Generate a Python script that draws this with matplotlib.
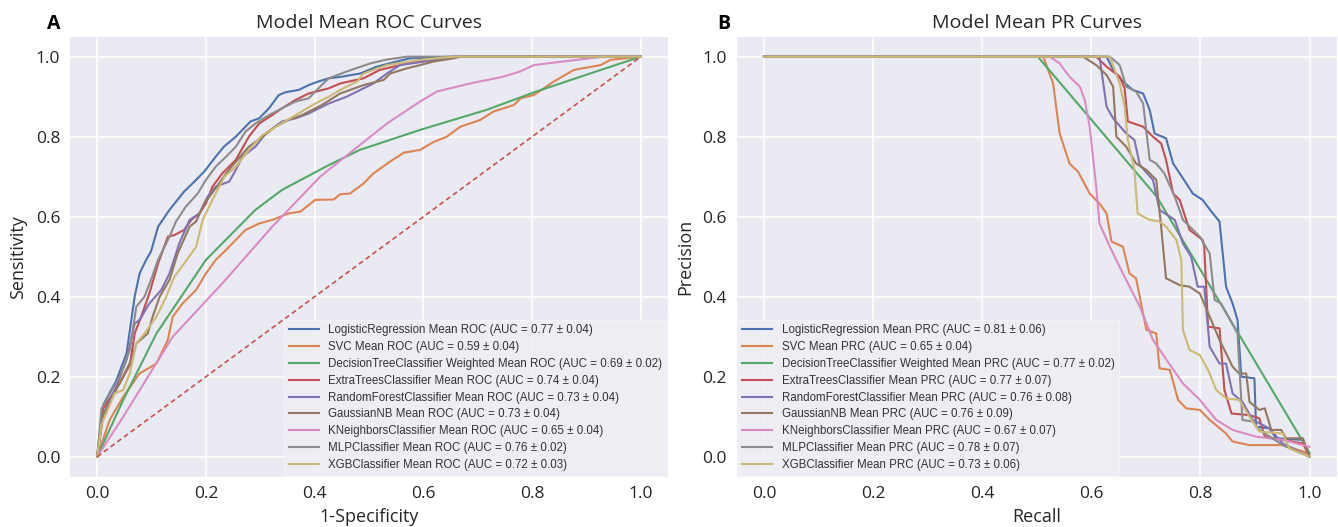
import matplotlib
matplotlib.use("Agg")
import matplotlib.pyplot as plt

# ---- data ----
models = ["LogisticRegression", "SVC", "DecisionTreeClassifier", "ExtraTreesClassifier",
          "RandomForestClassifier", "GaussianNB", "KNeighborsClassifier", "MLPClassifier",
          "XGBClassifier"]
colors = ["#4C72B0", "#DD8452", "#55A868", "#C44E52", "#8172B3",
          "#937860", "#DA8BC3", "#8C8C8C", "#CCB974"]
roc_auc = ["0.77 ± 0.04", "0.59 ± 0.04", "0.69 ± 0.02", "0.74 ± 0.04", "0.73 ± 0.04",
           "0.73 ± 0.04", "0.65 ± 0.04", "0.76 ± 0.02", "0.72 ± 0.03"]
prc_auc = ["0.81 ± 0.06", "0.65 ± 0.04", "0.77 ± 0.02", "0.77 ± 0.07", "0.76 ± 0.08",
           "0.76 ± 0.09", "0.67 ± 0.07", "0.78 ± 0.07", "0.73 ± 0.06"]

lr_fpr = [0, 0.011, 0.035, 0.054, 0.069, 0.078, 0.09, 0.099, 0.112, 0.133, 0.16, 0.179, 0.197, 0.218,
          0.233, 0.255, 0.282, 0.298, 0.316, 0.334, 0.346, 0.371, 0.389, 0.407, 0.426, 0.45, 0.484,
          0.514, 0.557, 0.576, 0.65, 1.0]
lr_tpr = [0, 0.129, 0.19, 0.258, 0.4, 0.458, 0.492, 0.513, 0.575, 0.617, 0.663, 0.688, 0.713, 0.75,
          0.775, 0.8, 0.838, 0.846, 0.871, 0.904, 0.911, 0.917, 0.929, 0.938, 0.946, 0.95, 0.958,
          0.975, 0.99, 0.996, 1.0, 1.0]
svc_fpr = [0, 0.023, 0.048, 0.078, 0.109, 0.13, 0.139, 0.157, 0.182, 0.2, 0.218, 0.237, 0.255, 0.273,
           0.298, 0.322, 0.352, 0.374, 0.401, 0.435, 0.447, 0.465, 0.49, 0.508, 0.539, 0.564, 0.594,
           0.619, 0.643, 0.668, 0.705, 0.729, 0.766, 0.779, 0.803, 0.84, 0.877, 0.926, 0.944, 1.0]
svc_tpr = [0, 0.092, 0.15, 0.208, 0.233, 0.292, 0.35, 0.383, 0.417, 0.458, 0.492, 0.517, 0.542, 0.567,
           0.583, 0.592, 0.608, 0.613, 0.642, 0.643, 0.656, 0.658, 0.683, 0.708, 0.738, 0.76, 0.767,
           0.787, 0.8, 0.825, 0.842, 0.863, 0.879, 0.896, 0.904, 0.938, 0.967, 0.979, 0.992, 1.0]
dt_fpr = [0, 0.048, 0.109, 0.2, 0.291, 0.34, 0.426, 0.483, 0.594, 0.716, 0.808, 0.9, 1.0]
dt_tpr = [0, 0.142, 0.308, 0.492, 0.617, 0.667, 0.729, 0.767, 0.817, 0.867, 0.913, 0.955, 1.0]
et_fpr = [0, 0.011, 0.041, 0.06, 0.069, 0.081, 0.096, 0.112, 0.13, 0.142, 0.16, 0.173, 0.188, 0.2,
          0.212, 0.23, 0.255, 0.279, 0.298, 0.322, 0.34, 0.365, 0.389, 0.426, 0.447, 0.49, 0.52,
          0.57, 0.613, 0.656, 1.0]
et_tpr = [0, 0.12, 0.183, 0.229, 0.308, 0.35, 0.408, 0.483, 0.55, 0.554, 0.567, 0.592, 0.608, 0.633,
          0.675, 0.708, 0.742, 0.8, 0.833, 0.854, 0.871, 0.892, 0.908, 0.921, 0.933, 0.946, 0.967,
          0.983, 0.992, 1.0, 1.0]
rf_fpr = [0, 0.011, 0.035, 0.054, 0.069, 0.078, 0.096, 0.118, 0.133, 0.151, 0.17, 0.188, 0.203, 0.218,
          0.243, 0.255, 0.267, 0.291, 0.31, 0.34, 0.365, 0.389, 0.426, 0.459, 0.508, 0.533, 0.557,
          0.613, 0.656, 1.0]
rf_tpr = [0, 0.104, 0.175, 0.242, 0.333, 0.342, 0.383, 0.417, 0.458, 0.533, 0.592, 0.608, 0.65, 0.675,
          0.688, 0.717, 0.75, 0.775, 0.808, 0.838, 0.846, 0.858, 0.883, 0.9, 0.933, 0.958, 0.979,
          0.99, 1.0, 1.0]
gnb_fpr = [0, 0.011, 0.041, 0.063, 0.072, 0.093, 0.102, 0.115, 0.133, 0.148, 0.17, 0.182, 0.197, 0.218,
           0.237, 0.258, 0.279, 0.304, 0.328, 0.352, 0.377, 0.413, 0.447, 0.49, 0.527, 0.539, 0.57,
           0.594, 0.619, 0.656, 0.668, 1.0]
gnb_tpr = [0, 0.104, 0.183, 0.242, 0.283, 0.308, 0.35, 0.4, 0.442, 0.508, 0.575, 0.588, 0.633, 0.671,
           0.708, 0.742, 0.775, 0.8, 0.825, 0.842, 0.854, 0.879, 0.908, 0.929, 0.942, 0.958, 0.971,
           0.979, 0.988, 0.996, 1.0, 1.0]
knn_fpr = [0, 0.048, 0.139, 0.23, 0.322, 0.41, 0.472, 0.533, 0.594, 0.625, 0.686, 0.747, 0.778, 0.803,
           0.87, 0.93, 1.0]
knn_tpr = [0, 0.1, 0.3, 0.433, 0.575, 0.7, 0.767, 0.833, 0.888, 0.913, 0.933, 0.95, 0.963, 0.979,
           0.99, 1.0, 1.0]
mlp_fpr = [0, 0.008, 0.041, 0.06, 0.072, 0.087, 0.099, 0.112, 0.133, 0.145, 0.163, 0.185, 0.2, 0.218,
           0.237, 0.255, 0.273, 0.291, 0.316, 0.34, 0.365, 0.389, 0.413, 0.426, 0.459, 0.502, 0.533,
           0.57, 1.0]
mlp_tpr = [0, 0.12, 0.2, 0.267, 0.375, 0.4, 0.442, 0.492, 0.55, 0.588, 0.625, 0.658, 0.692, 0.725,
           0.75, 0.775, 0.813, 0.833, 0.854, 0.871, 0.888, 0.896, 0.929, 0.946, 0.963, 0.983, 0.993,
           1.0, 1.0]
xgb_fpr = [0, 0.008, 0.032, 0.048, 0.06, 0.072, 0.087, 0.109, 0.127, 0.142, 0.16, 0.182, 0.194, 0.212,
           0.234, 0.255, 0.279, 0.304, 0.334, 0.365, 0.401, 0.426, 0.447, 0.478, 0.49, 0.533, 0.594,
           0.656, 1.0]
xgb_tpr = [0, 0.08, 0.158, 0.167, 0.208, 0.283, 0.308, 0.35, 0.4, 0.45, 0.483, 0.525, 0.592, 0.642,
           0.7, 0.725, 0.767, 0.804, 0.829, 0.854, 0.883, 0.9, 0.917, 0.938, 0.958, 0.979, 0.992,
           1.0, 1.0]

lr_rec = [0, 0.628, 0.64, 0.658, 0.676, 0.695, 0.707, 0.716, 0.737, 0.75, 0.768, 0.786, 0.804, 0.82,
          0.835, 0.847, 0.859, 0.868, 0.875, 0.899, 0.902, 0.926, 0.939, 0.988, 1.0]
lr_prec = [1, 1, 0.967, 0.938, 0.917, 0.908, 0.867, 0.808, 0.796, 0.733, 0.696, 0.658, 0.642, 0.613,
           0.588, 0.425, 0.383, 0.342, 0.2, 0.196, 0.075, 0.071, 0.046, 0.042, 0.0]
svc_rec = [0, 0.512, 0.53, 0.542, 0.56, 0.576, 0.597, 0.615, 0.628, 0.637, 0.658, 0.67, 0.682, 0.701,
           0.719, 0.725, 0.744, 0.759, 0.774, 0.799, 0.817, 0.847, 0.859, 0.89, 0.951, 1.0]
svc_prec = [1, 1, 0.933, 0.808, 0.733, 0.712, 0.658, 0.633, 0.608, 0.538, 0.525, 0.458, 0.446, 0.317,
            0.308, 0.221, 0.217, 0.142, 0.121, 0.117, 0.092, 0.058, 0.038, 0.029, 0.029, 0.008]
dt_rec = [0, 0.502, 0.72, 1.0]
dt_prec = [1, 1, 0.65, 0.01]
et_rec = [0, 0.609, 0.628, 0.652, 0.661, 0.667, 0.695, 0.713, 0.728, 0.737, 0.75, 0.762, 0.78, 0.804,
          0.807, 0.814, 0.835, 0.844, 0.857, 0.89, 0.908, 0.918, 0.988, 1.0]
et_prec = [1, 1, 0.975, 0.95, 0.921, 0.838, 0.825, 0.8, 0.783, 0.742, 0.658, 0.642, 0.567, 0.542,
           0.525, 0.325, 0.321, 0.167, 0.108, 0.104, 0.096, 0.05, 0.033, 0.0]
rf_rec = [0, 0.615, 0.628, 0.64, 0.664, 0.679, 0.689, 0.713, 0.725, 0.753, 0.768, 0.783, 0.795, 0.807,
          0.817, 0.835, 0.847, 0.859, 0.877, 0.896, 0.926, 0.951, 1.0]
rf_prec = [1, 1, 0.875, 0.846, 0.808, 0.792, 0.729, 0.692, 0.617, 0.592, 0.533, 0.5, 0.425, 0.425,
           0.275, 0.233, 0.233, 0.158, 0.137, 0.092, 0.071, 0.033, 0.0]
gnb_rec = [0, 0.585, 0.609, 0.628, 0.64, 0.646, 0.664, 0.682, 0.701, 0.719, 0.728, 0.737, 0.762, 0.78,
           0.799, 0.817, 0.835, 0.859, 0.871, 0.884, 0.89, 0.908, 0.918, 0.93, 0.948, 0.957, 0.988, 1.0]
gnb_prec = [1, 1, 0.979, 0.954, 0.925, 0.8, 0.775, 0.733, 0.717, 0.692, 0.575, 0.446, 0.429, 0.425,
            0.408, 0.35, 0.292, 0.225, 0.208, 0.208, 0.137, 0.117, 0.121, 0.067, 0.067, 0.046, 0.046, 0.0]
knn_rec = [0, 0.524, 0.542, 0.56, 0.579, 0.588, 0.597, 0.609, 0.615, 0.634, 0.658, 0.689, 0.713, 0.738,
           0.768, 0.799, 0.829, 0.859, 0.902, 0.951, 1.0]
knn_prec = [1, 1, 0.983, 0.95, 0.925, 0.892, 0.825, 0.675, 0.583, 0.525, 0.458, 0.375, 0.292, 0.242,
            0.183, 0.142, 0.092, 0.067, 0.05, 0.042, 0.025]
mlp_rec = [0, 0.634, 0.652, 0.664, 0.682, 0.695, 0.707, 0.719, 0.734, 0.753, 0.768, 0.799, 0.817, 0.826,
           0.838, 0.868, 0.877, 0.896, 0.908, 0.951, 1.0]
mlp_prec = [1, 1, 0.979, 0.925, 0.913, 0.883, 0.742, 0.733, 0.708, 0.65, 0.592, 0.55, 0.508, 0.392,
            0.383, 0.308, 0.092, 0.088, 0.067, 0.029, 0.0]
xgb_rec = [0, 0.634, 0.652, 0.661, 0.667, 0.679, 0.685, 0.707, 0.725, 0.737, 0.756, 0.765, 0.768, 0.78,
           0.799, 0.814, 0.829, 0.847, 0.871, 0.89, 0.908, 0.951, 0.963, 1.0]
xgb_prec = [1, 1, 0.933, 0.875, 0.792, 0.717, 0.608, 0.592, 0.588, 0.575, 0.542, 0.492, 0.317, 0.267,
            0.254, 0.217, 0.167, 0.146, 0.142, 0.1, 0.063, 0.058, 0.021, 0.0]

roc_x = [lr_fpr, svc_fpr, dt_fpr, et_fpr, rf_fpr, gnb_fpr, knn_fpr, mlp_fpr, xgb_fpr]
roc_y = [lr_tpr, svc_tpr, dt_tpr, et_tpr, rf_tpr, gnb_tpr, knn_tpr, mlp_tpr, xgb_tpr]
pr_x = [lr_rec, svc_rec, dt_rec, et_rec, rf_rec, gnb_rec, knn_rec, mlp_rec, xgb_rec]
pr_y = [lr_prec, svc_prec, dt_prec, et_prec, rf_prec, gnb_prec, knn_prec, mlp_prec, xgb_prec]
ticks = [0.0, 0.2, 0.4, 0.6, 0.8, 1.0]

plt.rcParams.update({
    "axes.facecolor": "#EAEAF2",
    "axes.edgecolor": "white",
    "axes.grid": True,
    "grid.color": "white",
    "grid.linewidth": 1.1,
    "axes.axisbelow": True,
    "font.family": ["Open Sans", "DejaVu Sans"],
})

fig = plt.figure(figsize=(13.38, 5.27), dpi=100)
ax1 = fig.add_axes([0.0523, 0.0954, 0.447, 0.835])
ax2 = fig.add_axes([0.5506, 0.0954, 0.4485, 0.835])


def style_axes(ax, title, xlabel, ylabel):
    for s in ax.spines.values():
        s.set_visible(False)
    ax.set_xlim(-0.05, 1.05)
    ax.set_ylim(-0.05, 1.05)
    ax.set_xticks(ticks)
    ax.set_yticks(ticks)
    ax.set_xticklabels(["%.1f" % t for t in ticks])
    ax.set_yticklabels(["%.1f" % t for t in ticks])
    ax.tick_params(length=0, pad=7, labelsize=12.5, labelcolor="#262626")
    ax.set_title(title, fontsize=14, pad=6, color="#262626")
    ax.set_xlabel(xlabel, fontsize=13, labelpad=4, color="#262626")
    ax.set_ylabel(ylabel, fontsize=13, labelpad=6, color="#262626")


for i, m in enumerate(models):
    kind = "Weighted Mean" if m == "DecisionTreeClassifier" else "Mean"
    ax1.plot(roc_x[i], roc_y[i], color=colors[i], lw=1.5,
             label="%s %s ROC (AUC = %s)" % (m, kind, roc_auc[i]))
    ax2.plot(pr_x[i], pr_y[i], color=colors[i], lw=1.5,
             label="%s %s PRC (AUC = %s)" % (m, kind, prc_auc[i]))
ax1.plot([0, 1], [0, 1], linestyle=(0, (3, 2)), lw=1.2, color="#C9504F")

style_axes(ax1, "Model Mean ROC Curves", "1-Specificity", "Sensitivity")
style_axes(ax2, "Model Mean PR Curves", "Recall", "Precision")

for ax, where in ((ax1, "lower right"), (ax2, "lower left")):
    leg = ax.legend(loc=where, prop={"family": "Liberation Sans", "size": 8.3},
                    borderaxespad=0.1, handlelength=2.6, labelspacing=0.42,
                    facecolor="#EEEEF5", edgecolor="#F4F4F8", framealpha=0.9, fancybox=False)
    for t in leg.get_texts():
        t.set_color("#333333")

fig.text(0.035, 0.955, "A", fontsize=14, fontweight="bold", ha="left", va="center")
fig.text(0.536, 0.955, "B", fontsize=14, fontweight="bold", ha="left", va="center")

fig.savefig("out.png", dpi=100, facecolor="white")
